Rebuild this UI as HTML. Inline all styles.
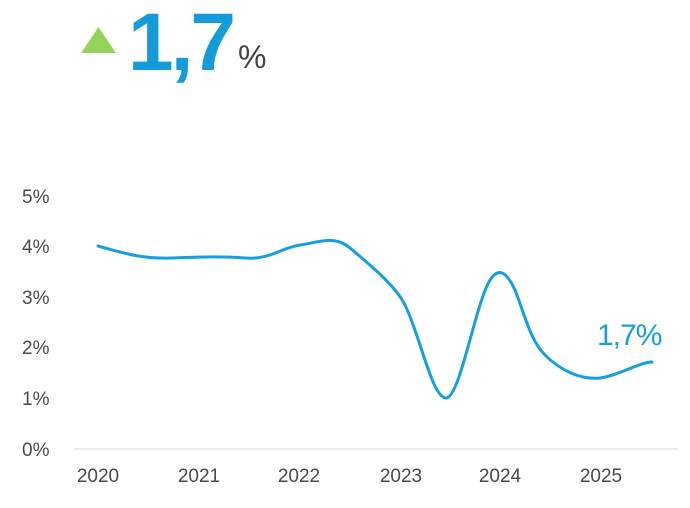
<!DOCTYPE html>
<html><head><style>
body{margin:0;width:690px;height:503px;background:#fff;overflow:hidden;font-family:"Liberation Sans",sans-serif}
</style></head><body>
<svg width="690" height="503" xmlns="http://www.w3.org/2000/svg">
<polygon points="81,53 98.5,27 116,53" fill="#95d35a"/>
<text x="128" y="70" font-family="Liberation Sans" font-weight="bold" font-size="82" fill="#149bd9" letter-spacing="-3">1,7</text>
<text x="238" y="68" font-family="Liberation Sans" font-size="32" fill="#444">%</text>
<g font-family="Liberation Sans" font-size="19" fill="#4a4a4a">
<text x="22" y="203">5%</text>
<text x="22" y="253">4%</text>
<text x="22" y="304">3%</text>
<text x="22" y="354">2%</text>
<text x="22" y="405">1%</text>
<text x="22" y="456">0%</text>
<g text-anchor="middle">
<text x="98" y="482">2020</text>
<text x="199" y="482">2021</text>
<text x="299" y="482">2022</text>
<text x="401" y="482">2023</text>
<text x="500" y="482">2024</text>
<text x="601" y="482">2025</text>
</g></g>
<line x1="74" y1="449" x2="678" y2="449" stroke="#e6e6e6" stroke-width="1.5"/>
<path d="M98,246 C120,252 140,259 170,258 S220,256 245,258 S280,248 300,245 S335,235 350,248 C370,265 395,285 405,305 C420,335 432,398 446,398 C460,398 475,305 490,280 C500,265 508,275 515,290 C525,315 530,340 545,355 C560,370 580,380 600,378 C620,375 640,362 652,362" fill="none" stroke="#169fe0" stroke-width="3" stroke-linecap="round"/>
<text x="597" y="345" font-family="Liberation Sans" font-size="30" fill="#169fe0" letter-spacing="-1">1,7%</text>
</svg>
</body></html>
